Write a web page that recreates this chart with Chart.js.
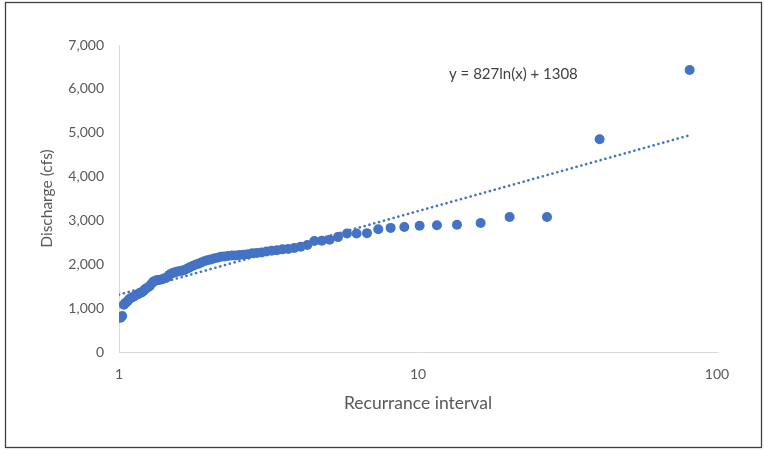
<!DOCTYPE html>
<html>
<head>
<meta charset="utf-8">
<script src="https://cdn.jsdelivr.net/npm/chart.js@4.4.1/dist/chart.umd.min.js"></script>
<style>
  html, body { margin: 0; padding: 0; background: #ffffff; }
  #wrap { width: 764px; height: 450px; position: relative; }
</style>
</head>
<body>
<div id="wrap"><canvas id="c" width="764" height="450"></canvas></div>
<script>
// Recurrence intervals (x) and discharge (cfs), ranked from largest flood
const recurrenceInterval = [81, 40.5, 27, 20.25, 16.2, 13.5, 11.571, 10.125, 9, 8.1,
  7.364, 6.75, 6.231, 5.786, 5.4, 5.063, 4.765, 4.5, 4.263, 4.05,
  3.857, 3.682, 3.522, 3.375, 3.24, 3.115, 3.0, 2.893, 2.793, 2.7,
  2.613, 2.531, 2.455, 2.382, 2.314, 2.25, 2.189, 2.132, 2.077, 2.025,
  1.976, 1.929, 1.884, 1.841, 1.8, 1.761, 1.723, 1.688, 1.653, 1.62,
  1.588, 1.558, 1.528, 1.5, 1.473, 1.446, 1.421, 1.397, 1.373, 1.35,
  1.328, 1.306, 1.286, 1.266, 1.246, 1.227, 1.209, 1.191, 1.174, 1.157,
  1.141, 1.125, 1.110, 1.095, 1.08, 1.066, 1.052, 1.038, 1.025, 1.0125];
const discharge = [6430, 4850, 3080, 3080, 2940, 2900, 2890, 2880, 2850, 2830,
  2800, 2710, 2700, 2700, 2620, 2560, 2535, 2530, 2440, 2400,
  2370, 2350, 2340, 2320, 2310, 2290, 2270, 2260, 2250, 2230,
  2220, 2210, 2200, 2200, 2190, 2180, 2170, 2150, 2130, 2110,
  2090, 2070, 2040, 2010, 1990, 1960, 1930, 1900, 1870, 1850,
  1840, 1830, 1810, 1790, 1760, 1700, 1680, 1660, 1650, 1640,
  1630, 1610, 1560, 1500, 1470, 1440, 1400, 1360, 1340, 1320,
  1300, 1270, 1250, 1230, 1200, 1150, 1120, 1080, 820, 780];
// Logarithmic trendline y = 827ln(x) + 1308 (end points as drawn)
const trendX = [1, 81];
const trendY = [1308, 4942];
const xTickLabels = [1, 10, 100];
const yTickLabels = [0, 1000, 2000, 3000, 4000, 5000, 6000, 7000];
const equationText = 'y = 827ln(x) + 1308';
const equationAnchor = { x: 12.7, y: 6340 };

const blue = '#4472C4';
const textGrey = '#595959';
const FONT = 'Lato, "Open Sans", sans-serif';

const scatterPts = recurrenceInterval.map((x, i) => ({ x: x, y: discharge[i] }));
const trendPts = trendX.map((x, i) => ({ x: x, y: trendY[i] }));

const framePlugin = {
  id: 'frame',
  beforeDraw(chart) {
    const ctx = chart.ctx;
    ctx.save();
    ctx.fillStyle = '#ffffff';
    ctx.fillRect(0, 0, chart.width, chart.height);
    ctx.strokeStyle = '#404040';
    ctx.lineWidth = 1.3;
    ctx.strokeRect(5.5, 2.5, 756, 445);
    ctx.restore();
  },
  afterDatasetsDraw(chart) {
    const ctx = chart.ctx;
    const xs = chart.scales.x, ys = chart.scales.y;
    ctx.save();
    ctx.fillStyle = '#404040';
    ctx.font = '15px ' + FONT;
    ctx.textAlign = 'left';
    ctx.textBaseline = 'middle';
    ctx.fillText(equationText, xs.getPixelForValue(equationAnchor.x), ys.getPixelForValue(equationAnchor.y));
    ctx.restore();
  }
};

new Chart(document.getElementById('c'), {
  type: 'scatter',
  data: {
    datasets: [
      {
        label: 'Trend',
        data: trendPts,
        showLine: true,
        borderColor: blue,
        borderWidth: 2.6,
        borderDash: [0.1, 4.9],
        borderCapStyle: 'round',
        pointRadius: 0,
        fill: false,
        order: 0
      },
      {
        label: 'Discharge',
        data: scatterPts,
        backgroundColor: blue,
        borderColor: blue,
        borderWidth: 0,
        pointRadius: 5,
        order: 1
      }
    ]
  },
  options: {
    responsive: false,
    animation: false,
    devicePixelRatio: 1,
    layout: { padding: { left: 34, top: 45, right: 47, bottom: 28 } },
    plugins: { legend: { display: false }, tooltip: { enabled: false } },
    scales: {
      x: {
        type: 'logarithmic',
        min: 1,
        max: 100,
        afterBuildTicks(scale) { scale.ticks = xTickLabels.map(v => ({ value: v })); },
        afterFit(scale) { scale.height = 70; },
        grid: { display: false, drawTicks: false },
        border: { display: true, color: '#d9d9d9', width: 1 },
        ticks: {
          color: textGrey,
          font: { family: FONT, size: 14 },
          padding: 14,
          maxRotation: 0,
          autoSkip: false,
          callback: (v) => String(v)
        },
        title: {
          display: true,
          text: 'Recurrance interval',
          color: textGrey,
          font: { family: FONT, size: 17.5 },
          padding: { top: 0, bottom: 8 }
        }
      },
      y: {
        min: 0,
        max: 7000,
        afterBuildTicks(scale) { scale.ticks = yTickLabels.map(v => ({ value: v })); },
        afterFit(scale) { scale.width = 85; },
        grid: { display: false, drawTicks: false },
        border: { display: true, color: '#d9d9d9', width: 1 },
        ticks: {
          color: textGrey,
          font: { family: FONT, size: 14 },
          padding: 15,
          callback: (v) => Number(v).toLocaleString('en-US')
        },
        title: {
          display: true,
          text: 'Discharge (cfs)',
          color: textGrey,
          font: { family: FONT, size: 15.5 },
          padding: { top: 4, bottom: 4 }
        }
      }
    }
  },
  plugins: [framePlugin]
});
</script>
</body>
</html>
